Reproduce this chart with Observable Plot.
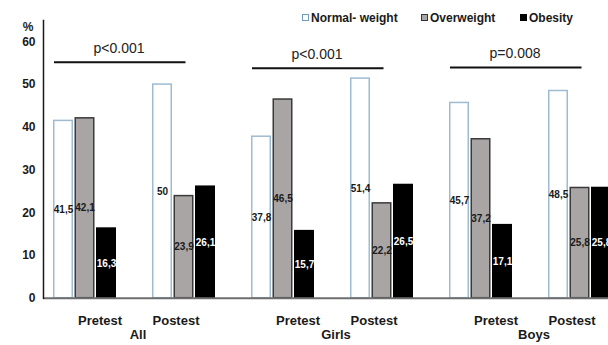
<!DOCTYPE html>
<html>
<head>
<meta charset="utf-8">
<script src="https://cdn.jsdelivr.net/npm/d3@7"></script>
<script src="https://cdn.jsdelivr.net/npm/@observablehq/plot@0.6"></script>
<style>
  body { margin: 0; background: #fff; }
  #wrap { position: relative; width: 608px; height: 345px; font-family: "Liberation Sans", Arial, sans-serif; }
  .legend { position: absolute; top: 10px; left: 0; width: 608px; height: 16px; font-size: 12px; font-weight: bold; color: #1a1a1a; }
  .item { position: absolute; top: 0; white-space: nowrap; line-height: 16px; }
  .sw { display: inline-block; width: 5px; height: 5px; margin-right: 2px; vertical-align: 1px; }
</style>
</head>
<body>
<div id="wrap"></div>
<script>
// ---- data ----
const groups = ["All", "Girls", "Boys"];
const times = ["Pretest", "Postest"];
const categories = ["Normal- weight", "Overweight", "Obesity"];
const normalWeight = [41.5, 50, 37.8, 51.4, 45.7, 48.5];
const overweight = [42.1, 23.9, 46.5, 22.2, 37.2, 25.8];
const obesity = [16.3, 26.1, 15.7, 26.5, 17.1, 25.8];
const pTexts = ["p<0.001", "p<0.001", "p=0.008"];
const pLevels = [55.2, 53.8, 54.0];
const yTicks = [0, 10, 20, 30, 40, 50, 60];

// ---- derived tables ----
const keys = groups.flatMap(g => times.map(t => g + " " + t));
const rows = keys.map((k, i) => ({
  key: k, group: groups[Math.floor(i / 2)], time: times[i % 2],
  normal: normalWeight[i], over: overweight[i], obese: obesity[i]
}));
const pData = groups.map((g, i) => ({from: g + " Pretest", to: g + " Postest", p: pTexts[i], level: pLevels[i], group: g}));
const fmt = v => String(v).replace(".", ",");

const W = 608, H = 345;
const step = 99, pitch = 21.5, barW = 18.5;
const inset = (step - barW) / 2;
const font = "Liberation Sans, Arial, sans-serif";

const series = [
  {field: "normal", dx: -pitch, fill: "#ffffff", stroke: "#9dbcd2", label: "#1a1a1a"},
  {field: "over", dx: 0, fill: "#a9a5a5", stroke: "#3a3a3a", label: "#1a1a1a"},
  {field: "obese", dx: pitch, fill: "#000000", stroke: "#000000", label: "#ffffff"}
];

const marks = [];
for (const s of series) {
  marks.push(Plot.barY(rows, {x: "key", y: s.field, dx: s.dx, insetLeft: inset, insetRight: inset,
    fill: s.fill, stroke: s.stroke, strokeWidth: 1.5}));
}
for (const s of series) {
  marks.push(Plot.text(rows, {x: "key", y: d => d[s.field] / 2, dx: s.dx, text: d => fmt(d[s.field]),
    fill: s.label, fontSize: 10, fontWeight: "bold"}));
}
marks.push(
  Plot.ruleY([0], {stroke: "#6e6e6e", strokeWidth: 2}),
  Plot.frame({anchor: "left", stroke: "#1a1a1a", strokeWidth: 1.5}),
  Plot.axisY({ticks: yTicks, tickSize: 0, tickPadding: 8, label: null, fontSize: 12, fontWeight: "bold", fill: "#1a1a1a"}),
  Plot.text(["%"], {frameAnchor: "top-left", dx: -10, dy: 2, textAnchor: "end", fontSize: 12, fontWeight: "bold", fill: "#1a1a1a"}),
  Plot.ruleY(pData, {x1: "from", x2: "to", y: "level", insetLeft: 19, insetRight: 47.5, stroke: "#111", strokeWidth: 2}),
  Plot.text(pData, {x: "from", y: "level", dx: 34, dy: -14, text: "p", fontSize: 14, fill: "#222"}),
  Plot.text(rows.filter(d => d.time === "Pretest"), {x: "key", frameAnchor: "bottom", dy: 27, dx: 15, text: "time", fontSize: 13, fontWeight: "bold", fill: "#1a1a1a"}),
  Plot.text(rows.filter(d => d.time === "Postest"), {x: "key", frameAnchor: "bottom", dy: 27, dx: -8, text: "time", fontSize: 13, fontWeight: "bold", fill: "#1a1a1a"}),
  Plot.text(rows.filter(d => d.time === "Pretest"), {x: "key", frameAnchor: "bottom", dy: 41, dx: 53, text: "group", fontSize: 13, fontWeight: "bold", fill: "#1a1a1a"})
);

const chart = Plot.plot({
  width: W, height: H,
  marginLeft: 43, marginRight: 0, marginTop: 20, marginBottom: 47.3,
  style: {fontFamily: font, background: "#fff"},
  x: {domain: keys, range: [84 - step / 2, 84 - step / 2 + step * keys.length], padding: 0, axis: null},
  y: {domain: [0, 65], axis: null},
  marks
});

const wrap = document.getElementById("wrap");
wrap.appendChild(chart);

// ---- legend ----
const legend = document.createElement("div");
legend.className = "legend";
const legendItems = [
  {text: categories[0], left: 302, fill: "#fff", stroke: "#6f9fc0"},
  {text: categories[1], left: 421, fill: "#a9a5a5", stroke: "#333"},
  {text: categories[2], left: 520, fill: "#000", stroke: "#000"}
];
for (const it of legendItems) {
  const d = document.createElement("div");
  d.className = "item";
  d.style.left = it.left + "px";
  const sw = document.createElement("span");
  sw.className = "sw";
  sw.style.background = it.fill;
  sw.style.border = "1px solid " + it.stroke;
  d.appendChild(sw);
  d.appendChild(document.createTextNode(it.text));
  legend.appendChild(d);
}
wrap.appendChild(legend);
</script>
</body>
</html>
